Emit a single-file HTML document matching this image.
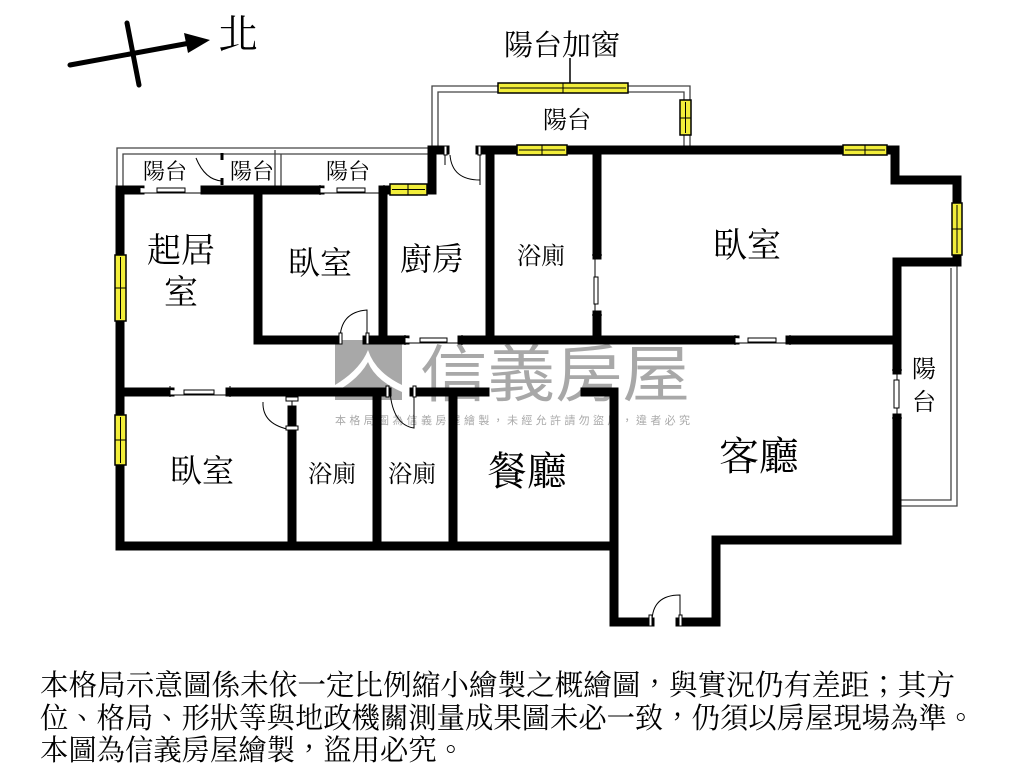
<!DOCTYPE html>
<html><head><meta charset="utf-8"><style>
html,body{margin:0;padding:0;background:#fff;}
svg{display:block}
text{font-family:"Liberation Serif","Noto Serif CJK TC","Noto Serif CJK SC",serif;fill:#000}
</style></head><body>
<svg width="1024" height="768" viewBox="0 0 1024 768" xmlns="http://www.w3.org/2000/svg">
<!-- watermark -->
<rect x="335" y="340" width="67" height="60" fill="#a8a8a8"/>
<path d="M335 385 Q360 370 368 350 Q375 372 402 385 L402 392 Q375 380 368 362 Q358 380 335 392Z" fill="#fff"/>
<text x="420" y="396" font-size="62" fill="#a8a8a8" style="fill:#a8a8a8;font-family:'Noto Sans CJK TC',sans-serif" textLength="270" lengthAdjust="spacingAndGlyphs">信義房屋</text>
<text x="335" y="424" font-size="11" style="fill:#aaa;font-family:'Noto Sans CJK TC',sans-serif" textLength="355" lengthAdjust="spacing">本格局圖為信義房屋繪製，未經允許請勿盜用，違者必究</text>

<!-- north arrow -->
<line x1="70" y1="65" x2="190" y2="43" stroke="#000" stroke-width="5" stroke-linecap="round"/>
<polygon points="210,40 184,33 188,53" fill="#000"/>
<line x1="127" y1="23" x2="139" y2="85" stroke="#000" stroke-width="5" stroke-linecap="round"/>
<text x="218" y="48" font-size="40">北</text>

<!-- balcony outlines (double thin lines) -->
<g fill="none" stroke="#444" stroke-width="1.3">
<path d="M117 188 V148 H432"/><path d="M123 188 V154 H432"/>
<path d="M275 188 V150"/><path d="M281 188 V154"/>
<path d="M432 150 V86 H690 V150"/><path d="M438 150 V92 H684 V150"/>
<path d="M957 262 V506 H897"/><path d="M951 268 V500 H897"/>
</g>
<line x1="570" y1="58" x2="570" y2="84" stroke="#000" stroke-width="1.5"/>
<!-- small door in left balcony -->
<path d="M222 153 V160 M222 178 V185" stroke="#000" stroke-width="3"/>
<path d="M196 158 Q205 180 222 181" fill="none" stroke="#000" stroke-width="1"/>

<!-- walls -->
<g stroke="#000" stroke-width="9" fill="none" stroke-linecap="square">
<path d="M120 190 V546 H614"/>
<path d="M120 190 H140 M205 190 H320 M384 190 H432 V150 H445 M480 150 H895 V180 H957 V262 H897 V370 M897 418 V540 H716 V622 H680 M650 622 H614 V392 H585"/>
<path d="M258 190 V340 H335"/>
<path d="M383 190 V340"/>
<path d="M490 150 V340"/>
<path d="M597 150 V255 M597 315 V340"/>
<path d="M367 340 H405 M462 340 H735 M790 340 H897"/>
<path d="M120 392 H170 M230 392 H387 M414 392 H485"/>
<path d="M292 410 V546 M377 392 V546 M453 392 V546"/>
</g>

<!-- windows (yellow) -->
<g fill="#f2ee3a" stroke="#000" stroke-width="1.5">
<rect x="390" y="184" width="37" height="11"/>
<rect x="498" y="83" width="130" height="10"/>
<rect x="680" y="100" width="11" height="35"/>
<rect x="517" y="145" width="50" height="10"/>
<rect x="843" y="145" width="44" height="10"/>
<rect x="952" y="203" width="10" height="52"/>
<rect x="115" y="255" width="11" height="66"/>
<rect x="115" y="415" width="11" height="50"/>
</g>
<g stroke="#000" stroke-width="1">
<path d="M408 184 V195 M392 189.5 H425 M563 83 V93 M500 88 H626 M680 118 H691 M685.5 102 V133 M542 145 V155 M519 150 H565 M865 145 V155 M845 150 H885 M952 229 H962 M957 205 V253 M115 288 H126 M120.5 257 V319 M115 440 H126 M120.5 417 V463"/>
</g>

<!-- sliding doors -->
<g fill="#fff" stroke="#000" stroke-width="1">
<path d="M140 188 V193 H205 M140 186 V194 M205 186 V194" />
<rect x="157" y="188" width="28" height="4"/>
<path d="M320 188 V193 H384 M320 185 V195 M384 185 V195"/>
<rect x="337" y="188" width="28" height="4"/>
<path d="M405 338 V343 H462 M405 335 V345 M462 335 V345"/>
<rect x="420" y="338" width="27" height="4"/>
<path d="M735 338 V343 H790 M735 335 V345 M790 335 V345"/>
<rect x="748" y="338" width="28" height="4"/>
<path d="M170 390 V395 H230 M170 386 V397 M230 386 V397"/>
<rect x="184" y="390" width="30" height="4"/>
<path d="M595 255 V315 M592 255 H602 M592 315 H602"/>
<rect x="594" y="277" width="4" height="27"/>
<path d="M897 370 V418 M892 370 H902 M892 418 H902"/>
<rect x="894" y="380" width="5" height="28"/>
</g>

<!-- swing doors -->
<g fill="none" stroke="#000" stroke-width="1">
<path d="M445 150 V165 M480 150 V185 M480 180 Q452 180 450 155"/>
<path d="M367 340 V310 Q340 312 340 340"/>
<path d="M292 397 V430 Q262 425 263 402"/>
<path d="M414 392 V428 Q393 425 390 392"/>
<path d="M680 622 V595 Q652 595 652 622"/>
</g>
<g fill="#fff" stroke="#000" stroke-width="1">
<rect x="444" y="146" width="3" height="9"/><rect x="478" y="146" width="3" height="9"/>
<rect x="339" y="333" width="3" height="11"/><rect x="366" y="333" width="3" height="11"/>
<rect x="286" y="397" width="12" height="4"/><rect x="286" y="426" width="12" height="4"/>
<rect x="386" y="386" width="3" height="11"/><rect x="413" y="386" width="3" height="11"/>
<rect x="649" y="615" width="3" height="11"/><rect x="679" y="615" width="3" height="11"/>
</g>

<!-- labels -->
<text x="504" y="55" font-size="29">陽台加窗</text>
<text x="543" y="128" font-size="24">陽台</text>
<text x="143" y="179" font-size="22">陽台</text>
<text x="230" y="179" font-size="22">陽台</text>
<text x="326" y="179" font-size="22">陽台</text>
<text x="147" y="262" font-size="34">起居</text>
<text x="164" y="304" font-size="34">室</text>
<text x="288" y="274" font-size="32">臥室</text>
<text x="400" y="270" font-size="32">廚房</text>
<text x="517" y="264" font-size="24">浴廁</text>
<text x="713" y="257" font-size="34">臥室</text>
<text x="912" y="377" font-size="24">陽</text>
<text x="912" y="410" font-size="24">台</text>
<text x="170" y="482" font-size="32">臥室</text>
<text x="308" y="482" font-size="24">浴廁</text>
<text x="388" y="482" font-size="24">浴廁</text>
<text x="487" y="485" font-size="40">餐廳</text>
<text x="719" y="470" font-size="40">客廳</text>

<!-- footer -->
<text x="40" y="695" font-size="29" textLength="915" lengthAdjust="spacingAndGlyphs">本格局示意圖係未依一定比例縮小繪製之概繪圖，與實況仍有差距；其方</text>
<text x="40" y="728" font-size="29" textLength="935" lengthAdjust="spacingAndGlyphs">位、格局、形狀等與地政機關測量成果圖未必一致，仍須以房屋現場為準。</text>
<text x="40" y="760" font-size="29" textLength="425" lengthAdjust="spacingAndGlyphs">本圖為信義房屋繪製，盜用必究。</text>
</svg>
</body></html>
